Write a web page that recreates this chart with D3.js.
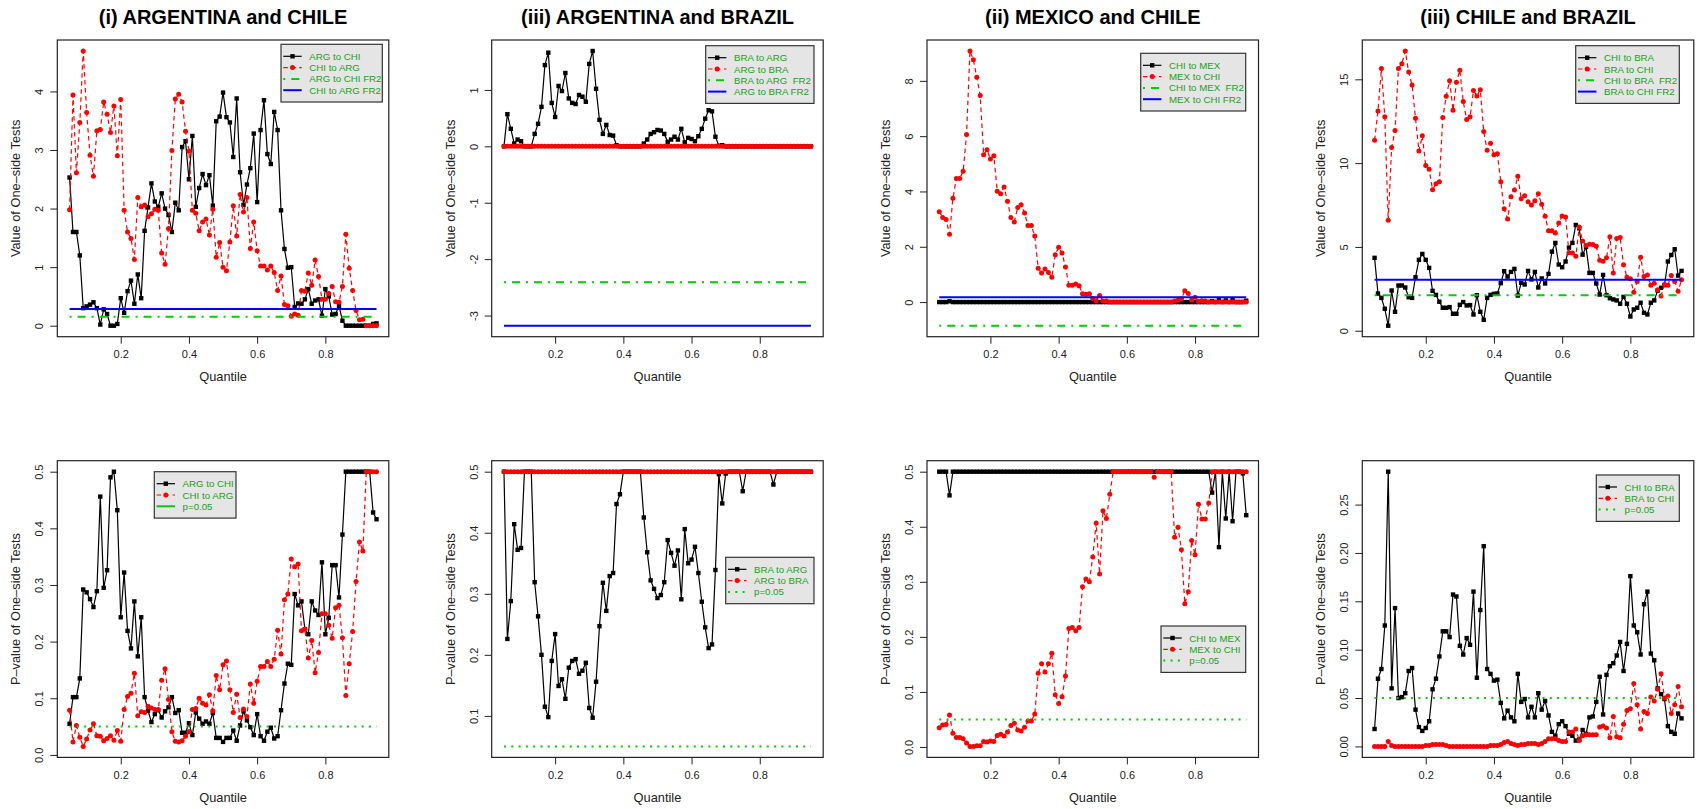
<!DOCTYPE html>
<html><head><meta charset="utf-8">
<script src="https://cdn.jsdelivr.net/npm/d3@7"></script>
<style>
body{margin:0;background:#fff}
svg{display:block}
text{font-family:"Liberation Sans",Arial,Helvetica,sans-serif}
</style>
</head><body>
<svg id="c" width="1697" height="809"></svg>
<script>
// ---------------- DATA ----------------
const quantile = [0.05,0.06,0.07,0.08,0.09,0.10,0.11,0.12,0.13,0.14,
  0.15,0.16,0.17,0.18,0.19,0.20,0.21,0.22,0.23,0.24,
  0.25,0.26,0.27,0.28,0.29,0.30,0.31,0.32,0.33,0.34,
  0.35,0.36,0.37,0.38,0.39,0.40,0.41,0.42,0.43,0.44,
  0.45,0.46,0.47,0.48,0.49,0.50,0.51,0.52,0.53,0.54,
  0.55,0.56,0.57,0.58,0.59,0.60,0.61,0.62,0.63,0.64,
  0.65,0.66,0.67,0.68,0.69,0.70,0.71,0.72,0.73,0.74,
  0.75,0.76,0.77,0.78,0.79,0.80,0.81,0.82,0.83,0.84,
  0.85,0.86,0.87,0.88,0.89,0.90,0.91,0.92,0.93,0.94,0.95];
const xTicks = [0.2,0.4,0.6,0.8];

// (i) ARGENTINA and CHILE - test values
const argToChiStat = [2.53,1.60,1.60,1.20,0.30,0.33,0.36,0.40,0.30,0.02,
  0.28,0.20,0.00,0.00,0.03,0.47,0.22,0.59,0.77,0.375,
  0.875,0.47,1.62,2.02,2.43,2.12,2.03,2.26,2.00,1.89,
  1.60,2.10,1.97,3.05,3.15,2.50,3.24,2.03,2.35,2.59,
  2.40,2.57,2.05,3.49,3.57,3.98,3.56,3.47,2.88,3.88,
  2.62,2.06,2.41,2.69,3.28,2.11,3.34,3.85,2.93,2.76,
  3.65,3.34,1.97,1.31,0.99,1.00,0.32,0.38,0.375,0.45,
  0.625,0.375,0.43,0.45,0.17,0.625,0.50,0.19,0.20,0.34,
  0.085,0,0,0,0,0,0,0,0,0.03,0.04];
const chiToArgStat = [1.98,3.94,2.61,3.47,4.69,3.64,2.91,2.55,3.33,3.35,
  3.82,3.61,3.30,3.75,2.90,3.86,1.97,1.60,1.49,1.13,
  2.19,2.03,2.06,1.86,1.91,1.99,1.97,1.24,1.05,1.66,
  2.99,3.87,3.95,3.82,3.32,2.98,1.97,1.92,1.62,1.77,
  1.82,1.55,1.99,1.17,1.42,1.00,0.94,1.43,2.05,1.53,
  2.24,1.94,2.19,1.32,1.77,1.28,1.02,1.02,0.95,1.02,
  0.91,0.60,0.85,0.36,0.34,0.16,0.20,0.18,0.60,0.59,
  0.90,0.69,1.12,0.84,0.45,0.45,0.55,0.67,0.41,0.40,
  0.67,1.56,0.98,0.60,0.26,0.10,0.11,0,0,0,0];
const argChiFR2 = [0.153, 0.284]; // ARG to CHI FR2, CHI to ARG FR2

// (iii) ARGENTINA and BRAZIL - test values
const braToArgStat = [0,0.57,0.31,0.05,0.12,0.09,0,0,0,0.22,
  0.40,0.70,1.44,1.66,0.77,0.52,1.07,0.98,1.30,0.85,
  0.77,0.75,0.91,0.88,0.79,1.46,1.69,1.02,0.47,0.22,
  0.38,0.20,0.19,0.02,0,0,0,0,0,0,
  0,0.05,0.12,0.22,0.25,0.29,0.28,0.22,0.08,0.12,
  0.17,0.12,0.31,0.07,0.15,0.13,0.09,0.18,0.31,0.49,
  0.64,0.62,0.17,0.01,0.02,0,0,0,0,0,
  0,0,0,0,0,0,0,0,0,0,
  0,0,0,0,0,0,0,0,0,0,0];
const argToBraStat = [0,0,0,0,0,0,0,0,0,0,0,0,0,0,0,0,0,0,0,0,
  0,0,0,0,0,0,0,0,0,0,0,0,0,0,0,0,0,0,0,0,
  0,0,0,0,0,0,0,0,0,0,0,0,0,0,0,0,0,0,0,0,
  0,0,0,0,0,0,0,0,0,0,0,0,0,0,0,0,0,0,0,0,
  0,0,0,0,0,0,0,0,0,0,0];
const argBraFR2 = [-2.41, -3.18]; // BRA to ARG FR2, ARG to BRA FR2

// (ii) MEXICO and CHILE - test values
const chiToMexStat = [0,0,0,0.03,0,0,0,0,0,0,
  0,0,0,0,0,0,0,0,0,0,0,0,0,0,0,0,0,0,0,0,
  0,0,0,0,0,0,0,0,0,0,0,0,0,0,0,0,0,0,0,0,
  0,0,0,0,0,0,0,0,0,0,0,0,0,0,0,0,0,0,0,0,
  0,0,0,0,0,0,0,0,0,0,
  0.03,0,0.10,0,0.06,0,0.07,0,0,0,0.05];
const mexToChiStat = [3.27,3.06,2.99,2.45,3.75,4.47,4.47,4.73,6.06,9.08,
  8.76,8.13,7.47,5.33,5.51,5.17,5.29,4.01,3.92,4.16,
  3.65,3.06,2.90,3.42,3.52,3.22,2.77,2.77,2.39,1.22,
  1.05,1.20,1.07,0.90,1.71,1.98,1.77,1.27,0.61,0.61,
  0.65,0.59,0.30,0.28,0.30,0.13,0.05,0.24,0.04,0.04,
  0,0,0,0,0,0,0,0,0,0,
  0,0,0,0,0,0,0,0,0,0.04,
  0.07,0.12,0.41,0.31,0.07,0.17,0.02,0.05,0.04,0,
  0,0,0,0,0,0,0,0,0,0,0];
const mexChiFR2 = [-0.855, 0.17]; // CHI to MEX FR2, MEX to CHI FR2

// (iii) CHILE and BRAZIL - test values
const chiToBraStat = [4.35,2.22,1.96,1.31,0.30,2.40,1.13,2.70,2.70,2.58,
  2.00,1.96,3.19,4.23,4.58,4.23,3.75,2.38,2.14,1.73,
  1.37,1.37,1.41,1.01,1.01,1.55,1.71,1.51,1.53,0.97,
  2.12,1.13,0.65,1.96,2.14,2.20,2.22,2.84,3.55,3.23,
  3.51,3.69,2.10,2.86,2.76,3.57,3.06,3.51,2.58,3.12,
  2.82,3.39,4.72,5.24,3.95,3.79,4.13,4.96,5.24,6.31,
  6.11,4.54,5.00,3.45,3.45,2.82,2.16,3.33,2.12,1.94,
  1.87,1.81,1.61,2.02,1.61,0.85,1.27,1.37,1.67,1.07,
  0.97,1.67,1.81,2.40,2.56,2.72,4.13,4.52,4.86,3.29,3.57];
const braToChiStat = [11.37,13.11,15.65,12.76,6.59,10.93,11.94,15.65,15.93,16.69,
  15.44,14.66,12.68,10.73,11.63,9.86,9.64,8.41,8.77,8.89,
  12.72,13.99,14.92,13.15,14.82,15.54,13.67,12.60,12.76,14.33,
  14.01,14.38,11.88,10.77,11.19,10.50,10.56,8.89,7.28,6.67,
  8.00,8.39,9.21,7.88,8.06,7.70,7.50,7.76,8.17,7.54,
  6.83,5.97,5.97,5.83,6.43,6.85,6.79,4.66,4.64,4.44,
  6.19,5.36,5.08,5.16,5.14,5.04,4.21,4.15,4.35,5.60,
  3.45,5.50,5.56,3.93,3.19,3.10,2.30,2.94,4.38,3.23,
  3.33,2.72,2.84,2.44,2.08,2.76,2.72,3.29,2.94,2.36,3.04];
const chiBraFR2 = [2.12, 3.04]; // CHI to BRA FR2, BRA to CHI FR2

// P-values
const pLevel = 0.05;
const argToChiP = [0.055,0.102,0.102,0.135,0.292,0.287,0.275,0.261,0.289,0.456,
  0.295,0.326,0.490,0.500,0.432,0.243,0.322,0.219,0.188,0.271,
  0.174,0.243,0.102,0.078,0.058,0.072,0.079,0.066,0.077,0.084,
  0.102,0.074,0.079,0.039,0.039,0.056,0.035,0.075,0.064,0.055,
  0.059,0.055,0.074,0.030,0.030,0.023,0.030,0.030,0.043,0.025,
  0.052,0.077,0.061,0.049,0.035,0.072,0.033,0.025,0.041,0.048,
  0.029,0.033,0.079,0.126,0.161,0.159,0.284,0.264,0.271,0.222,
  0.213,0.271,0.255,0.247,0.340,0.213,0.242,0.335,0.335,0.278,
  0.389,0.5,0.5,0.5,0.5,0.5,0.5,0.5,0.5,0.428,0.416];
const chiToArgP = [0.079,0.023,0.052,0.031,0.015,0.028,0.044,0.055,0.034,0.033,
  0.025,0.029,0.034,0.026,0.043,0.024,0.080,0.103,0.109,0.144,
  0.069,0.076,0.075,0.086,0.083,0.080,0.080,0.132,0.152,0.098,
  0.041,0.024,0.023,0.025,0.033,0.041,0.080,0.082,0.100,0.091,
  0.088,0.106,0.078,0.140,0.115,0.159,0.166,0.115,0.075,0.107,
  0.066,0.081,0.068,0.125,0.091,0.130,0.156,0.156,0.165,0.156,
  0.169,0.220,0.178,0.274,0.284,0.346,0.332,0.337,0.219,0.222,
  0.171,0.202,0.145,0.181,0.249,0.249,0.229,0.206,0.260,0.264,
  0.207,0.105,0.161,0.218,0.306,0.376,0.360,0.5,0.5,0.5,0.5];
const braToArgP = [0.5,0.226,0.288,0.414,0.372,0.375,0.5,0.5,0.5,0.319,
  0.263,0.200,0.115,0.098,0.190,0.234,0.149,0.160,0.128,0.179,
  0.190,0.193,0.169,0.174,0.187,0.113,0.097,0.156,0.247,0.318,
  0.272,0.329,0.334,0.447,0.463,0.5,0.5,0.5,0.5,0.5,
  0.5,0.425,0.368,0.322,0.308,0.293,0.298,0.319,0.388,0.367,
  0.346,0.371,0.291,0.406,0.350,0.356,0.377,0.334,0.287,0.245,
  0.211,0.217,0.339,0.496,0.448,0.497,0.5,0.5,0.5,0.5,
  0.468,0.5,0.5,0.5,0.5,0.5,0.5,0.5,0.5,0.479,
  0.5,0.5,0.5,0.5,0.5,0.5,0.5,0.5,0.5,0.5,0.5];
const argToBraP = [0.5,0.5,0.5,0.5,0.5,0.5,0.5,0.5,0.5,0.5,0.5,0.5,0.5,0.5,0.5,0.5,0.5,0.5,0.5,0.5,
  0.5,0.5,0.5,0.5,0.5,0.5,0.5,0.5,0.5,0.5,0.5,0.5,0.5,0.5,0.5,0.5,0.5,0.5,0.5,0.5,
  0.5,0.5,0.5,0.5,0.5,0.5,0.5,0.5,0.5,0.5,0.5,0.5,0.5,0.5,0.5,0.5,0.5,0.5,0.5,0.5,
  0.5,0.5,0.5,0.5,0.5,0.5,0.5,0.5,0.5,0.5,0.5,0.5,0.5,0.5,0.5,0.5,0.5,0.5,0.5,0.5,
  0.5,0.5,0.5,0.5,0.5,0.5,0.5,0.5,0.5,0.5,0.5];
const chiToMexP = [0.5,0.5,0.5,0.457,0.5,0.5,0.5,0.5,0.5,0.5,
  0.5,0.5,0.5,0.5,0.5,0.5,0.5,0.5,0.5,0.5,0.5,0.5,0.5,0.5,0.5,0.5,0.5,0.5,0.5,0.5,
  0.5,0.5,0.5,0.5,0.5,0.5,0.5,0.5,0.5,0.5,0.5,0.5,0.5,0.5,0.5,0.5,0.5,0.5,0.5,0.5,
  0.5,0.5,0.5,0.5,0.5,0.5,0.5,0.5,0.5,0.5,0.5,0.5,0.5,0.5,0.5,0.5,0.5,0.5,0.5,0.5,
  0.5,0.5,0.5,0.5,0.5,0.5,0.5,0.5,0.5,0.5,
  0.462,0.5,0.363,0.5,0.415,0.5,0.410,0.5,0.5,0.497,0.421];
const mexToChiP = [0.035,0.040,0.041,0.058,0.025,0.017,0.017,0.015,0.007,0.001,
  0.001,0.002,0.002,0.010,0.009,0.011,0.010,0.021,0.023,0.020,
  0.027,0.039,0.043,0.031,0.029,0.036,0.047,0.047,0.060,0.134,
  0.151,0.136,0.151,0.170,0.095,0.079,0.091,0.129,0.215,0.217,
  0.211,0.217,0.291,0.305,0.300,0.345,0.407,0.314,0.429,0.415,
  0.459,0.5,0.5,0.5,0.5,0.5,0.5,0.5,0.5,0.5,
  0.5,0.5,0.5,0.490,0.5,0.5,0.5,0.5,0.5,0.381,
  0.399,0.358,0.260,0.282,0.375,0.349,0.441,0.414,0.414,0.443,
  0.5,0.5,0.5,0.5,0.5,0.5,0.5,0.5,0.5,0.5,0.5];
const chiToBraP = [0.018,0.070,0.080,0.125,0.284,0.060,0.143,0.050,0.051,0.055,
  0.078,0.081,0.038,0.020,0.016,0.019,0.026,0.059,0.070,0.093,
  0.119,0.119,0.113,0.157,0.155,0.104,0.095,0.112,0.105,0.160,
  0.071,0.141,0.207,0.080,0.075,0.068,0.069,0.045,0.029,0.037,
  0.030,0.026,0.075,0.046,0.049,0.030,0.041,0.030,0.055,0.038,
  0.047,0.032,0.015,0.011,0.023,0.026,0.021,0.013,0.011,0.006,
  0.007,0.017,0.013,0.030,0.031,0.046,0.072,0.033,0.074,0.083,
  0.086,0.094,0.108,0.078,0.106,0.176,0.125,0.118,0.095,0.147,
  0.160,0.096,0.089,0.060,0.054,0.049,0.021,0.015,0.013,0.034,0.029];
const braToChiP = [0.000,0.000,0.000,0.000,0.005,0.001,0.000,0.000,0.000,0.000,
  0.000,0.000,0.000,0.000,0.000,0.001,0.001,0.002,0.002,0.002,
  0.002,0.001,0.000,0.000,0.000,0.000,0.000,0.000,0.000,0.000,
  0.000,0.000,0.000,0.000,0.001,0.001,0.001,0.002,0.004,0.005,
  0.003,0.002,0.001,0.002,0.002,0.003,0.003,0.003,0.002,0.003,
  0.005,0.008,0.008,0.008,0.006,0.005,0.005,0.015,0.015,0.018,
  0.006,0.011,0.012,0.012,0.012,0.012,0.020,0.021,0.019,0.009,
  0.031,0.010,0.009,0.023,0.037,0.039,0.065,0.043,0.018,0.036,
  0.034,0.051,0.047,0.059,0.075,0.050,0.052,0.034,0.043,0.062,0.041];

// tick labels
const yTicksArgChi = [0,1,2,3,4];
const yTicksArgBra = [-3,-2,-1,0,1];
const yTicksMexChi = [0,2,4,6,8];
const yTicksChiBra = [0,5,10,15];
const yTicksP1 = [0.0,0.1,0.2,0.3,0.4,0.5];
const yTicksP2 = [0.1,0.2,0.3,0.4,0.5];
const yTicksP4 = [0.00,0.05,0.10,0.15,0.20,0.25];

// ---------------- LAYOUT / STYLE ----------------
const svg = d3.select('#c');
const PW = 331.5, PH = 296.7;
const lefts = [57.3, 491.7, 927, 1362.3];
const tops = [40, 460.7];
const GREEN_TXT = '#22a022', GREEN_LN = '#00cd00';

const panels = [
 {col:0,row:0,title:'(i) ARGENTINA and CHILE', ylab:'Value of One–side Tests', black:argToChiStat, red:chiToArgStat,
  refs:[{v:argChiFR2[0],k:'dashdot'},{v:argChiFR2[1],k:'blue'}], ticks:yTicksArgChi, fmt:d3.format('d'),
  labels:['ARG to CHI','CHI to ARG','ARG to CHI FR2','CHI to ARG FR2'], leg:[281,44.3,101.3]},
 {col:1,row:0,title:'(iii) ARGENTINA and BRAZIL', ylab:'Value of One–side Tests', black:braToArgStat, red:argToBraStat,
  refs:[{v:argBraFR2[0],k:'dashdot'},{v:argBraFR2[1],k:'blue'}], ticks:yTicksArgBra, fmt:d=>String(d),
  labels:['BRA to ARG','ARG to BRA','BRA to ARG  FR2','ARG to BRA FR2'], leg:[705.7,45.7,108.3]},
 {col:2,row:0,title:'(ii) MEXICO and CHILE', ylab:'Value of One–side Tests', black:chiToMexStat, red:mexToChiStat,
  refs:[{v:mexChiFR2[0],k:'dashdot'},{v:mexChiFR2[1],k:'blue'}], ticks:yTicksMexChi, fmt:d3.format('d'),
  labels:['CHI to MEX','MEX to CHI','CHI to MEX  FR2','MEX to CHI FR2'], leg:[1140.7,53.3,105]},
 {col:3,row:0,title:'(iii) CHILE and BRAZIL', ylab:'Value of One–side Tests', black:chiToBraStat, red:braToChiStat,
  refs:[{v:chiBraFR2[0],k:'dashdot'},{v:chiBraFR2[1],k:'blue'}], ticks:yTicksChiBra, fmt:d3.format('d'),
  labels:['CHI to BRA','BRA to CHI','CHI to BRA  FR2','BRA to CHI FR2'], leg:[1575.7,45.7,103.6]},
 {col:0,row:1,title:null, ylab:'P–value of One–side Tests', black:argToChiP, red:chiToArgP,
  refs:[{v:pLevel,k:'dot'}], ticks:yTicksP1, fmt:d3.format('.1f'),
  labels:['ARG to CHI','CHI to ARG','p=0.05'], legSolid:true, leg:[154.3,471.7,81.7]},
 {col:1,row:1,title:null, ylab:'P–value of One–side Tests', black:braToArgP, red:argToBraP,
  refs:[{v:pLevel,k:'dot'}], ticks:yTicksP2, fmt:d3.format('.1f'),
  labels:['BRA to ARG','ARG to BRA','p=0.05'], leg:[725.7,557.3,88.3]},
 {col:2,row:1,title:null, ylab:'P–value of One–side Tests', black:chiToMexP, red:mexToChiP,
  refs:[{v:pLevel,k:'dot'}], ticks:yTicksP1, fmt:d3.format('.1f'),
  labels:['CHI to MEX','MEX to CHI','p=0.05'], leg:[1161,626,84.7]},
 {col:3,row:1,title:null, ylab:'P–value of One–side Tests', black:chiToBraP, red:braToChiP,
  refs:[{v:pLevel,k:'dot'}], ticks:yTicksP4, fmt:d3.format('.2f'),
  labels:['CHI to BRA','BRA to CHI','p=0.05'], leg:[1596.3,475,83]}
];

const refStyle = {
  dashdot:{stroke:GREEN_LN, w:2, dash:'2,6,8,6'},
  blue:{stroke:'#0000ff', w:2, dash:null},
  dot:{stroke:GREEN_LN, w:2, dash:'2,5.3'},
  solidgreen:{stroke:GREEN_LN, w:2, dash:null}
};

function drawPanel(p) {
  const L = lefts[p.col], T = tops[p.row];
  const g = svg.append('g');
  const all = p.black.concat(p.red, p.refs.map(r => r.v));
  const lo = d3.min(all), hi = d3.max(all), pad = (hi - lo) * 0.04;
  const qlo = d3.min(quantile), qhi = d3.max(quantile), qpad = (qhi - qlo) * 0.04;
  const x = d3.scaleLinear().domain([qlo - qpad, qhi + qpad]).range([L, L + PW]);
  const y = d3.scaleLinear().domain([lo - pad, hi + pad]).range([T + PH, T]);

  const line = d3.line().x((d, i) => x(quantile[i])).y(d => y(d));

  // black series
  g.append('path').datum(p.black).attr('d', line)
    .attr('fill', 'none').attr('stroke', '#000').attr('stroke-width', 1.2);
  const s = 4.4;
  g.selectAll('rect.b').data(p.black).join('rect').attr('class', 'b')
    .attr('x', (d, i) => x(quantile[i]) - s / 2).attr('y', d => y(d) - s / 2)
    .attr('width', s).attr('height', s).attr('fill', '#000');

  // red series
  g.append('path').datum(p.red).attr('d', line)
    .attr('fill', 'none').attr('stroke', '#ff0000').attr('stroke-width', 1.2)
    .attr('stroke-dasharray', '4.5,3.5');
  g.selectAll('circle.r').data(p.red).join('circle').attr('class', 'r')
    .attr('cx', (d, i) => x(quantile[i])).attr('cy', d => y(d)).attr('r', 2.5).attr('fill', '#ff0000');

  // reference lines
  p.refs.forEach(r => {
    const st = refStyle[r.k];
    g.append('line').attr('x1', x(qlo)).attr('x2', x(qhi)).attr('y1', y(r.v)).attr('y2', y(r.v))
      .attr('stroke', st.stroke).attr('stroke-width', st.w)
      .attr('stroke-dasharray', st.dash);
  });

  // box
  g.append('rect').attr('x', L).attr('y', T).attr('width', PW).attr('height', PH)
    .attr('fill', 'none').attr('stroke', '#222').attr('stroke-width', 1.2);

  // x axis
  const xa = g.append('g').attr('transform', `translate(0,${T + PH})`)
    .call(d3.axisBottom(x).tickValues(xTicks).tickSize(7).tickPadding(7).tickFormat(d3.format('.1f')));
  xa.select('.domain').remove();
  xa.selectAll('line').attr('stroke', '#222');
  xa.selectAll('text').attr('font-size', 11).attr('fill', '#222')
    .style('font-family', '"Liberation Sans",Arial,sans-serif');

  // y axis
  const ya = g.append('g').attr('transform', `translate(${L},0)`)
    .call(d3.axisLeft(y).tickValues(p.ticks).tickSize(7).tickFormat(p.fmt));
  ya.select('.domain').remove();
  ya.selectAll('line').attr('stroke', '#222');
  ya.selectAll('text').attr('font-size', 11).attr('fill', '#222')
    .style('font-family', '"Liberation Sans",Arial,sans-serif')
    .attr('x', null).attr('dy', null).attr('text-anchor', 'middle')
    .attr('transform', 'translate(-14,0) rotate(-90)');

  // axis titles
  g.append('text').attr('x', L + PW / 2).attr('y', T + PH + 44.5).attr('text-anchor', 'middle')
    .attr('font-size', 12.8).attr('fill', '#222').text('Quantile');
  g.append('text').attr('transform', `translate(${L - 37},${T + PH / 2}) rotate(-90)`)
    .attr('text-anchor', 'middle').attr('font-size', 12.8).attr('fill', '#222').text(p.ylab);

  if (p.title) {
    g.append('text').attr('x', L + PW / 2).attr('y', 24).attr('text-anchor', 'middle')
      .attr('font-size', 20).attr('font-weight', 'bold').attr('fill', '#000').text(p.title);
  }

  // legend
  const [lx, ly, lw] = p.leg;
  const n = p.labels.length;
  const lg = g.append('g');
  lg.append('rect').attr('x', lx).attr('y', ly).attr('width', lw).attr('height', 11.3 * n + 12.5)
    .attr('fill', '#e5e5e5').attr('stroke', '#333').attr('stroke-width', 1.2);
  p.labels.forEach((lab, i) => {
    const cy = ly + 12 + 11.3 * i;
    const x1 = lx + 2.3, x2 = lx + 20.7, xm = lx + 11.5;
    let st;
    if (i === 0) st = {stroke:'#000', w:1.2, dash:null};
    else if (i === 1) st = {stroke:'#ff0000', w:1.2, dash:'4.5,3.5'};
    else if (i === 2) st = p.refs[0].k === 'dashdot' ? refStyle.dashdot : (p.legSolid ? refStyle.solidgreen : refStyle.dot);
    else st = refStyle.blue;
    lg.append('line').attr('x1', x1).attr('x2', x2).attr('y1', cy).attr('y2', cy)
      .attr('stroke', st.stroke).attr('stroke-width', st.w).attr('stroke-dasharray', st.dash);
    if (i === 0) lg.append('rect').attr('x', xm - s / 2).attr('y', cy - s / 2).attr('width', s).attr('height', s).attr('fill', '#000');
    if (i === 1) lg.append('circle').attr('cx', xm).attr('cy', cy).attr('r', 2.5).attr('fill', '#ff0000');
    lg.append('text').attr('x', lx + 28.3).attr('y', cy).attr('dominant-baseline', 'central')
      .attr('font-size', 9.7).attr('fill', GREEN_TXT).style('white-space', 'pre').text(lab);
  });
}

panels.forEach(drawPanel);
</script>
</body></html>
